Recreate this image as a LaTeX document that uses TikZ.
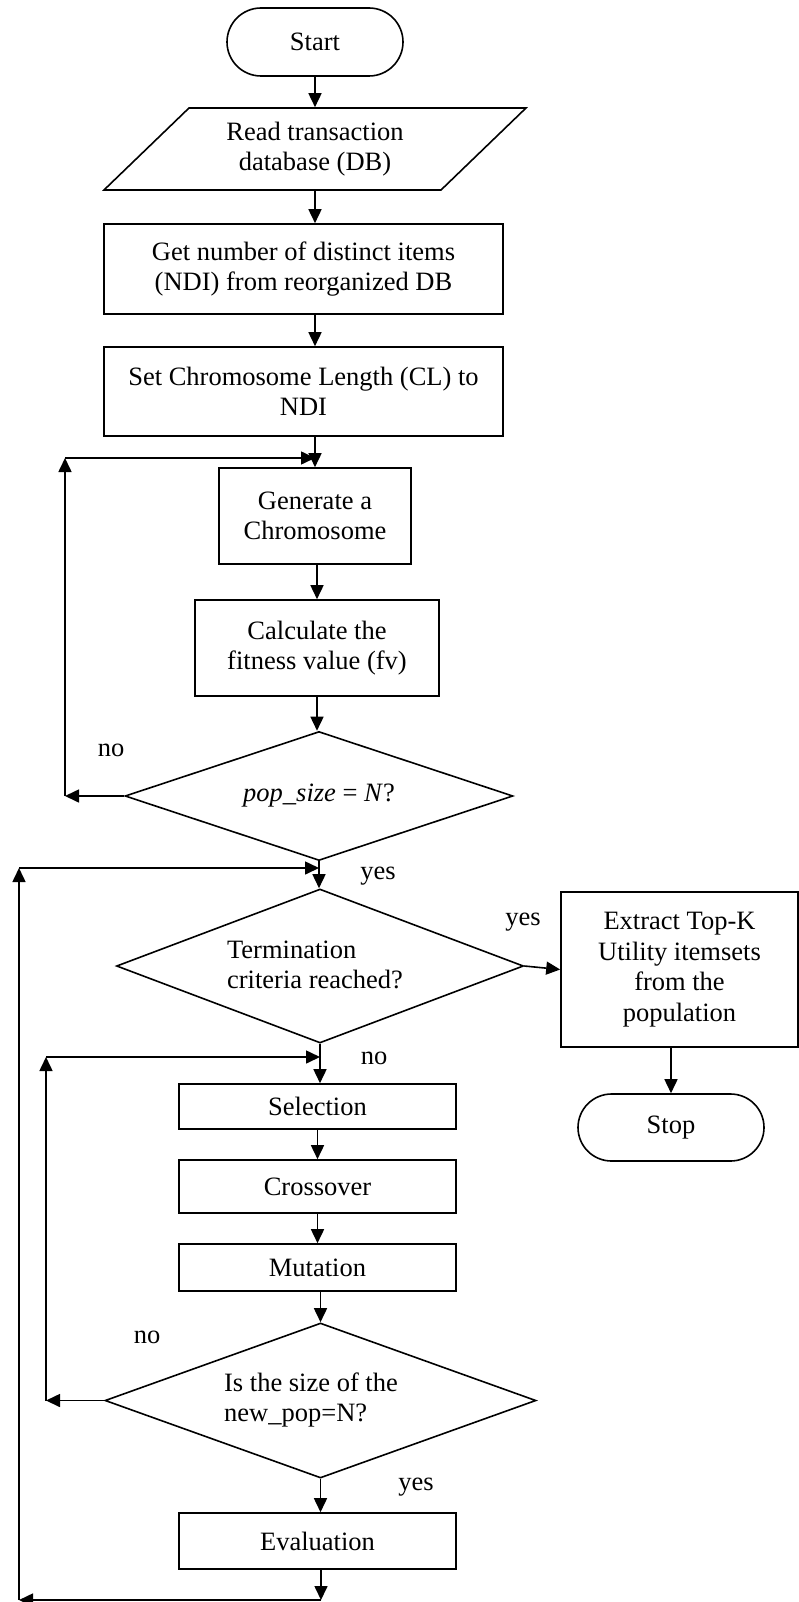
\documentclass[tikz,border=0pt]{standalone}
\usepackage{fontspec}
\setmainfont{Liberation Serif}
\usetikzlibrary{arrows.meta,shapes.geometric,shapes.misc}
\begin{document}
\begin{tikzpicture}[x=1pt,y=-1pt,
  every node/.style={font=\fontsize{26.5}{30.5}\selectfont},
  line width=1.6pt,
  arr/.style={-{Triangle[length=14pt,width=13pt]}},
  box/.style={draw, rectangle, align=center, inner sep=0pt},
  termbox/.style={draw, rounded rectangle, inner sep=0pt},
  dec/.style={draw, diamond, inner sep=0pt},
  dtext/.style={inner sep=0pt, align=left},
  lbl/.style={inner sep=0pt}]
\useasboundingbox (0,0) rectangle (799,1602);

% nodes
\node[termbox, minimum width=176pt, minimum height=68pt] (start) at (315,42) {Start};
\draw (189,108) -- (526,108) -- (441,190) -- (104,190) -- cycle;
\node[inner sep=0pt, minimum width=337pt, minimum height=82pt, align=center] (read) at (315,149) {Read transaction\\database (DB)};
\node[box, minimum width=399pt, minimum height=90pt] (get) at (303.5,269) {Get number of distinct items\\(NDI) from reorganized DB};
\node[box, minimum width=399pt, minimum height=89pt] (set) at (303.5,391.5) {Set Chromosome Length (CL) to\\NDI};
\node[box, minimum width=192pt, minimum height=96pt] (gen) at (315,516) {Generate a\\Chromosome};
\node[box, minimum width=244pt, minimum height=96pt] (calc) at (317,648) {Calculate the\\fitness value (fv)};
\node[dec, minimum width=388pt, minimum height=129pt, shape aspect=3] (d1) at (319,796) {\textit{pop\_size} = \textit{N}?};
\node[dec, minimum width=407pt, minimum height=154pt, shape aspect=2.64] (tc) at (320,966) {};
\node[dtext] (tctext) at (315,965) {Termination\\criteria reached?};
\node[box, minimum width=237pt, minimum height=155pt] (ext) at (679.5,969.5) {Extract Top-K\\Utility itemsets\\from the\\population};
\node[termbox, minimum width=186pt, minimum height=67pt] (stop) at (671,1127.5) {Stop};
\node[box, minimum width=277pt, minimum height=45pt] (sel) at (317.5,1106.5) {Selection};
\node[box, minimum width=277pt, minimum height=53pt] (cro) at (317.5,1186.5) {Crossover};
\node[box, minimum width=277pt, minimum height=47pt] (mut) at (317.5,1267.5) {Mutation};
\node[dec, minimum width=431pt, minimum height=155pt, shape aspect=2.78] (d2) at (320.5,1400.5) {};
\node[dtext] (d2text) at (311,1400) {Is the size of the\\new\_pop=N?};
\node[box, minimum width=277pt, minimum height=56pt] (eva) at (317.5,1541) {Evaluation};

% labels
\node[lbl] (no1) at (111,750) {no};
\node[lbl] (yes1) at (378,876) {yes};
\node[lbl] (yes2) at (523,922) {yes};
\node[lbl] (no2) at (374,1058) {no};
\node[lbl] (no3) at (147,1337) {no};
\node[lbl] (yes3) at (416,1487) {yes};

% coordinates
\coordinate (l1a) at (65,796);
\coordinate (l1b) at (65,458);
\coordinate (l2a) at (19,1600);
\coordinate (l2b) at (19,868);
\coordinate (l2c) at (321,1600);
\coordinate (l3a) at (46,1400.5);
\coordinate (l3b) at (46,1057);

% connectors
\draw[arr] (start.south) -- (read.north);
\draw[arr] (read.south) -- (read.south |- get.north);
\draw[arr] (read.south |- get.south) -- (read.south |- set.north);
\draw[arr] (read.south |- set.south) -- (gen.north);
\draw[arr] (d1.west) -- (l1a);
\draw[arr] (l1a) -- (l1b);
\draw[arr] (l1b) -- (l1b -| gen.north);
\draw[arr] (calc.north |- gen.south) -- (calc.north);
\draw[arr] (calc.south) -- (calc.south |- d1.north);
\draw[arr] (d1.south) -- (d1.south |- tc.north);
\draw[arr] (l2b) -- (l2b -| d1.south);
\draw[arr] (tc.east) -- (ext.west);
\draw[arr] (stop.north |- ext.south) -- (stop.north);
\draw[arr] (tc.south) -- (tc.south |- sel.north);
\draw[arr] (l3b) -- (l3b -| tc.south);
\draw[arr] (sel.south) -- (cro.north);
\draw[arr] (cro.south) -- (mut.north);
\draw[arr] (d2.north |- mut.south) -- (d2.north);
\draw[arr] (d2.south) -- (d2.south |- eva.north);
\draw[arr] (l2c |- eva.south) -- (l2c);
\draw[arr] (l2c) -- (l2a);
\draw[arr] (l2a) -- (l2b);
\draw[arr] (d2.west) -- (l3a);
\draw[arr] (l3a) -- (l3b);
\end{tikzpicture}
\end{document}
